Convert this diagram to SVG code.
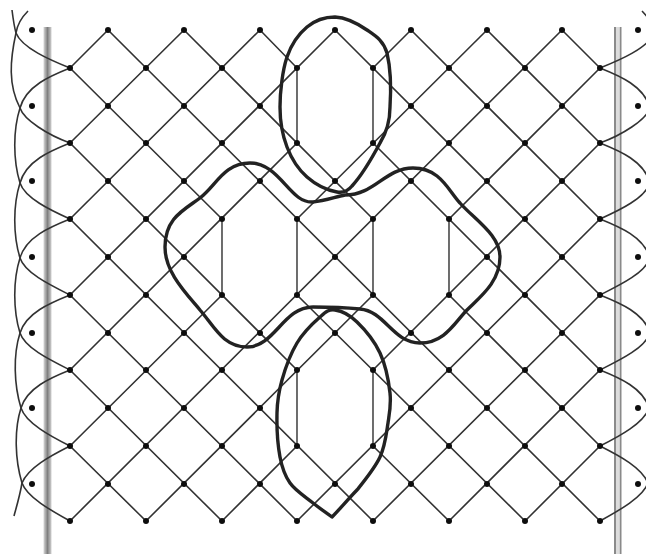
<svg xmlns="http://www.w3.org/2000/svg" width="646" height="554" viewBox="0 0 646 554">
<style>
.e{fill:none;stroke:#333;stroke-width:1.6}
.v{fill:none;stroke:#555;stroke-width:1.7}
.t{fill:none;stroke:#222;stroke-width:3.4;stroke-linejoin:round}
circle{fill:#111}
</style>
<defs>
<filter id="soft" x="-5%" y="-5%" width="110%" height="110%"><feGaussianBlur stdDeviation="0.7"/></filter>
<linearGradient id="bar"><stop offset="0" stop-color="#d8d8d8"/><stop offset="0.5" stop-color="#808080"/><stop offset="1" stop-color="#d0d0d0"/></linearGradient>
<g id="strands">
<path d="M70 68C50 60 22 48 16 33C14 26 13 18 12 10"/>
<path d="M28 11C22 17 17 26 16 33C10 60 8 85 20 108C24 120 48 135 70 143"/>
<path d="M70 68C50 76 26 86 20 108C13 130 13 160 20 183C25 198 50 210 70 219"/>
<path d="M70 143C50 151 26 161 20 183C13 205 13 235 20 258C25 273 50 285 70 295"/>
<path d="M70 219C50 227 26 237 20 258C13 280 13 310 20 333C25 348 50 360 70 370"/>
<path d="M70 295C50 303 26 313 20 333C13 355 14 385 21 408C26 423 50 436 70 446"/>
<path d="M70 370C50 378 27 388 21 408C14 430 15 460 22 483C27 497 50 510 70 521"/>
<path d="M70 446C50 456 28 468 22 483C20 495 17 505 14 516"/>
</g>
</defs>
<rect width="646" height="554" fill="#fff"/>
<g filter="url(#soft)">
<g id="bars">
<rect x="43.5" y="27" width="8" height="527" fill="url(#bar)"/>
<rect x="614" y="27" width="2" height="527" fill="#8a8a8a"/>
<rect x="619.5" y="27" width="2" height="527" fill="#8a8a8a"/>
<rect x="616" y="27" width="3.5" height="527" fill="#dcdcdc"/>
</g>
<g id="connectors">
<path class="e" d="M70 446L146 521M70 370L222 521M70 295L297 521M70 219L373 521M70 143L297 370M373 446L449 521M70 68L222 219M297 295L525 521M108 30L600 521M184 30L373 219M449 295L600 446M260 30L297 68M373 143L600 370M335 30L600 295M411 30L600 219M487 30L600 143M562 30L600 68"/>
<path class="e" d="M70 68L108 30M70 143L184 30M70 219L260 30M70 295L335 30M70 370L297 143M373 68L411 30M70 446L222 295M297 219L487 30M70 521L562 30M146 521L373 295M449 219L600 68M222 521L297 446M373 370L600 143M297 521L600 219M373 521L600 295M449 521L600 370M525 521L600 446"/>
<path class="v" d="M297 68V143M373 68V143M222 219V295M297 219V295M373 219V295M449 219V295M297 370V446M373 370V446"/>
<g class="e"><use href="#strands"/><use href="#strands" transform="translate(670 0) scale(-1 1)"/></g>
</g>
<g id="closed-curves">
<path id="curve-top" class="t" d="M335 17C345 17.5 358.3 24 367 30S383.2 40.2 387 53C391 70 391 92 390 107C390 125 385 135 380 143C372 158 362 175 352 186C347 192 342 193 337 192C325 190 315 184 307 177S291.5 158.7 287 147S280 122 280 107S282.5 70.3 287 57S299 33.7 307 27S325 17 335 17Z"/>
<path id="curve-middle" class="t" d="M313 202C290 204 280 163 250 163C224 163 216 186 200 198C184 210 165 218 165 247C165 272 185 292 200 310C214 326 223 347 247 347C275 347 283 307 313 307C322 307 350 308 360 309C385 311 393 343 420 343C445 343 455 322 467 310C480 297 500 282 500 257C500 235 475 220 460 203C448 190 440 168 413 168C385 168 375 195 345 195C335 197 325 201 313 202Z"/>
<path id="curve-bottom" class="t" d="M332 517C325 511.5 320 508.7 313 503S295.5 490.7 290 483S282.2 468.7 280 457S276.7 425.8 277 413S278.7 391.7 282 380S290.7 353.5 297 343S313.7 322.5 320 317S328.8 309.2 335 310S349.5 314.8 357 322S374.5 341.2 380 353S388.7 381.3 390 393S389.7 412.3 388 423S385.2 445.8 380 457S365 480 357 490C350 497 340 509 332 517Z"/>
</g>
<g id="nodes">
<g id="d1"><circle cx="32" cy="30" r="3"/></g><g id="d2"><circle cx="32" cy="106" r="3"/></g><g id="d3"><circle cx="32" cy="181" r="3"/></g><g id="d4"><circle cx="32" cy="257" r="3"/></g><g id="d5"><circle cx="32" cy="333" r="3"/></g><g id="d6"><circle cx="32" cy="408" r="3"/></g><g id="d7"><circle cx="32" cy="484" r="3"/></g>
<g id="e1"><circle cx="638" cy="30" r="3"/></g><g id="e2"><circle cx="638" cy="106" r="3"/></g><g id="e3"><circle cx="638" cy="181" r="3"/></g><g id="e4"><circle cx="638" cy="257" r="3"/></g><g id="e5"><circle cx="638" cy="333" r="3"/></g><g id="e6"><circle cx="638" cy="408" r="3"/></g><g id="e7"><circle cx="638" cy="484" r="3"/></g>
<g id="n2-0"><circle cx="108" cy="30" r="3"/></g><g id="n4-0"><circle cx="184" cy="30" r="3"/></g><g id="n6-0"><circle cx="260" cy="30" r="3"/></g><g id="n8-0"><circle cx="335" cy="30" r="3"/></g><g id="n10-0"><circle cx="411" cy="30" r="3"/></g><g id="n12-0"><circle cx="487" cy="30" r="3"/></g><g id="n14-0"><circle cx="562" cy="30" r="3"/></g>
<g id="n1-1"><circle cx="70" cy="68" r="3"/></g><g id="n3-1"><circle cx="146" cy="68" r="3"/></g><g id="n5-1"><circle cx="222" cy="68" r="3"/></g><g id="n7-1"><circle cx="297" cy="68" r="3"/></g><g id="n9-1"><circle cx="373" cy="68" r="3"/></g><g id="n11-1"><circle cx="449" cy="68" r="3"/></g><g id="n13-1"><circle cx="525" cy="68" r="3"/></g><g id="n15-1"><circle cx="600" cy="68" r="3"/></g>
<g id="n2-2"><circle cx="108" cy="106" r="3"/></g><g id="n4-2"><circle cx="184" cy="106" r="3"/></g><g id="n6-2"><circle cx="260" cy="106" r="3"/></g><g id="n10-2"><circle cx="411" cy="106" r="3"/></g><g id="n12-2"><circle cx="487" cy="106" r="3"/></g><g id="n14-2"><circle cx="562" cy="106" r="3"/></g>
<g id="n1-3"><circle cx="70" cy="143" r="3"/></g><g id="n3-3"><circle cx="146" cy="143" r="3"/></g><g id="n5-3"><circle cx="222" cy="143" r="3"/></g><g id="n7-3"><circle cx="297" cy="143" r="3"/></g><g id="n9-3"><circle cx="373" cy="143" r="3"/></g><g id="n11-3"><circle cx="449" cy="143" r="3"/></g><g id="n13-3"><circle cx="525" cy="143" r="3"/></g><g id="n15-3"><circle cx="600" cy="143" r="3"/></g>
<g id="n2-4"><circle cx="108" cy="181" r="3"/></g><g id="n4-4"><circle cx="184" cy="181" r="3"/></g><g id="n6-4"><circle cx="260" cy="181" r="3"/></g><g id="n8-4"><circle cx="335" cy="181" r="3"/></g><g id="n10-4"><circle cx="411" cy="181" r="3"/></g><g id="n12-4"><circle cx="487" cy="181" r="3"/></g><g id="n14-4"><circle cx="562" cy="181" r="3"/></g>
<g id="n1-5"><circle cx="70" cy="219" r="3"/></g><g id="n3-5"><circle cx="146" cy="219" r="3"/></g><g id="n5-5"><circle cx="222" cy="219" r="3"/></g><g id="n7-5"><circle cx="297" cy="219" r="3"/></g><g id="n9-5"><circle cx="373" cy="219" r="3"/></g><g id="n11-5"><circle cx="449" cy="219" r="3"/></g><g id="n13-5"><circle cx="525" cy="219" r="3"/></g><g id="n15-5"><circle cx="600" cy="219" r="3"/></g>
<g id="n2-6"><circle cx="108" cy="257" r="3"/></g><g id="n4-6"><circle cx="184" cy="257" r="3"/></g><g id="n8-6"><circle cx="335" cy="257" r="3"/></g><g id="n12-6"><circle cx="487" cy="257" r="3"/></g><g id="n14-6"><circle cx="562" cy="257" r="3"/></g>
<g id="n1-7"><circle cx="70" cy="295" r="3"/></g><g id="n3-7"><circle cx="146" cy="295" r="3"/></g><g id="n5-7"><circle cx="222" cy="295" r="3"/></g><g id="n7-7"><circle cx="297" cy="295" r="3"/></g><g id="n9-7"><circle cx="373" cy="295" r="3"/></g><g id="n11-7"><circle cx="449" cy="295" r="3"/></g><g id="n13-7"><circle cx="525" cy="295" r="3"/></g><g id="n15-7"><circle cx="600" cy="295" r="3"/></g>
<g id="n2-8"><circle cx="108" cy="333" r="3"/></g><g id="n4-8"><circle cx="184" cy="333" r="3"/></g><g id="n6-8"><circle cx="260" cy="333" r="3"/></g><g id="n8-8"><circle cx="335" cy="333" r="3"/></g><g id="n10-8"><circle cx="411" cy="333" r="3"/></g><g id="n12-8"><circle cx="487" cy="333" r="3"/></g><g id="n14-8"><circle cx="562" cy="333" r="3"/></g>
<g id="n1-9"><circle cx="70" cy="370" r="3"/></g><g id="n3-9"><circle cx="146" cy="370" r="3"/></g><g id="n5-9"><circle cx="222" cy="370" r="3"/></g><g id="n7-9"><circle cx="297" cy="370" r="3"/></g><g id="n9-9"><circle cx="373" cy="370" r="3"/></g><g id="n11-9"><circle cx="449" cy="370" r="3"/></g><g id="n13-9"><circle cx="525" cy="370" r="3"/></g><g id="n15-9"><circle cx="600" cy="370" r="3"/></g>
<g id="n2-10"><circle cx="108" cy="408" r="3"/></g><g id="n4-10"><circle cx="184" cy="408" r="3"/></g><g id="n6-10"><circle cx="260" cy="408" r="3"/></g><g id="n10-10"><circle cx="411" cy="408" r="3"/></g><g id="n12-10"><circle cx="487" cy="408" r="3"/></g><g id="n14-10"><circle cx="562" cy="408" r="3"/></g>
<g id="n1-11"><circle cx="70" cy="446" r="3"/></g><g id="n3-11"><circle cx="146" cy="446" r="3"/></g><g id="n5-11"><circle cx="222" cy="446" r="3"/></g><g id="n7-11"><circle cx="297" cy="446" r="3"/></g><g id="n9-11"><circle cx="373" cy="446" r="3"/></g><g id="n11-11"><circle cx="449" cy="446" r="3"/></g><g id="n13-11"><circle cx="525" cy="446" r="3"/></g><g id="n15-11"><circle cx="600" cy="446" r="3"/></g>
<g id="n2-12"><circle cx="108" cy="484" r="3"/></g><g id="n4-12"><circle cx="184" cy="484" r="3"/></g><g id="n6-12"><circle cx="260" cy="484" r="3"/></g><g id="n8-12"><circle cx="335" cy="484" r="3"/></g><g id="n10-12"><circle cx="411" cy="484" r="3"/></g><g id="n12-12"><circle cx="487" cy="484" r="3"/></g><g id="n14-12"><circle cx="562" cy="484" r="3"/></g>
<g id="n1-13"><circle cx="70" cy="521" r="3"/></g><g id="n3-13"><circle cx="146" cy="521" r="3"/></g><g id="n5-13"><circle cx="222" cy="521" r="3"/></g><g id="n7-13"><circle cx="297" cy="521" r="3"/></g><g id="n9-13"><circle cx="373" cy="521" r="3"/></g><g id="n11-13"><circle cx="449" cy="521" r="3"/></g><g id="n13-13"><circle cx="525" cy="521" r="3"/></g><g id="n15-13"><circle cx="600" cy="521" r="3"/></g>
</g>
</g>
</svg>
